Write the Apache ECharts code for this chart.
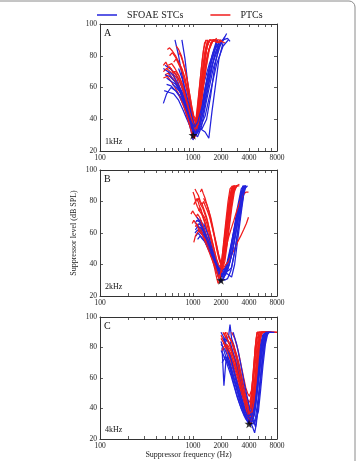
<!DOCTYPE html>
<html>
<head>
<meta charset="utf-8">
<script src="https://cdn.jsdelivr.net/npm/echarts@6/dist/echarts.min.js"></script>
<style>
  html, body { margin: 0; padding: 0; background: #fff; }
  #chart { width: 357px; height: 461px; }
</style>
</head>
<body>
<div id="chart"></div>
<script>
// suppression tuning curves, [frequency Hz, level dB SPL]
const stcA = [
  [[480,50],[520,56],[580,60],[650,58],[720,54],[800,48],[880,40],[950,33],[1000,27],[1050,30],[1150,45],[1300,62],[1500,75],[1700,84],[1900,88]],
  [[480,72],[540,70],[600,66],[680,62],[760,57],[850,50],[920,42],[980,35],[1050,32],[1150,38],[1300,55],[1500,72],[1750,85],[2000,90]],
  [[640,90],[700,80],[760,68],[830,56],[900,45],[960,36],[1020,30],[1100,33],[1200,42],[1350,60],[1600,80],[1800,90]],
  [[760,90],[820,78],[880,62],[940,48],[1000,38],[1080,33],[1180,38],[1300,50],[1500,68],[1750,82],[2050,90]],
  [[500,68],[560,67],[630,64],[700,60],[780,55],[860,47],[930,40],[1000,34],[1080,31],[1200,34],[1350,32],[1480,28],[1600,45],[1750,62],[1900,78],[2100,88]],
  [[490,58],[550,57],[620,56],[700,52],[780,46],[860,40],[940,35],[1020,33],[1100,35],[1250,34],[1400,40],[1550,55],[1700,72],[1900,86],[2200,92]],
  [[500,74],[560,72],[620,70],[690,66],[760,60],[840,52],[910,44],[980,37],[1060,33],[1150,36],[1280,48],[1450,68],[1650,82],[1850,90]],
  [[520,66],[580,64],[650,62],[720,58],[800,52],[880,45],[960,38],[1040,34],[1120,31],[1220,38],[1380,55],[1600,74],[1850,84],[2100,90],[2350,91],[2500,89]],
  [[600,62],[660,60],[730,57],[810,50],[890,43],[960,36],[1030,31],[1120,29],[1230,35],[1400,52],[1650,72],[1950,86],[2300,94]],
  [[550,70],[610,68],[680,63],[750,58],[830,50],[910,42],[990,35],[1070,30],[1160,35],[1300,45],[1500,64],[1700,80],[1900,88]],
  [[700,72],[760,66],[830,58],[900,50],[970,42],[1040,36],[1120,32],[1220,36],[1350,42],[1550,58],[1800,75],[2100,86],[2400,90]],
  [[520,62],[580,61],[650,58],[720,55],[800,50],[880,44],[960,38],[1040,35],[1120,38],[1250,48],[1400,62],[1600,78],[1800,88]]
];
const ptcA = [
  [[480,74],[510,76],[540,73],[580,72],[620,68],[670,66],[720,60],[780,55],[840,48],[900,42],[950,36],[1000,32],[1050,35],[1100,45],[1180,62],[1260,78],[1330,88],[1400,90]],
  [[530,84],[560,85],[600,83],[650,80],[700,76],[750,72],[800,65],[860,58],[920,50],[970,42],[1020,35],[1080,38],[1140,52],[1220,70],[1300,84],[1380,90]],
  [[480,70],[520,72],[570,70],[620,67],[680,62],[740,56],[800,50],[860,44],[920,38],[980,33],[1040,30],[1100,34],[1180,48],[1260,64],[1350,80],[1450,88],[1550,90]],
  [[560,80],[600,82],[650,79],[700,76],[760,72],[820,66],[880,58],[940,50],[1000,42],[1060,38],[1120,44],[1200,60],[1280,74],[1360,84],[1450,90]],
  [[500,68],[540,69],[590,66],[640,64],[700,60],[760,54],[820,48],[880,42],[940,37],[1000,34],[1060,36],[1130,45],[1220,60],[1320,76],[1420,86],[1520,90]],
  [[620,76],[660,78],[710,74],[760,70],[820,64],[880,56],[940,48],[1000,40],[1060,35],[1120,40],[1200,55],[1300,72],[1400,85],[1500,90],[1650,89],[1800,91]],
  [[480,66],[530,67],[580,64],[640,60],[700,56],[770,50],[840,44],[900,38],[960,32],[1020,28],[1080,30],[1150,40],[1250,58],[1380,76],[1550,88],[1700,90]],
  [[700,82],[740,80],[780,76],[830,70],[880,62],[930,54],[980,46],[1030,40],[1090,37],[1150,42],[1230,58],[1320,74],[1420,86],[1520,90],[1700,90],[1900,88],[2100,90]],
  [[540,74],[590,75],[640,72],[700,68],[760,62],[820,56],[880,50],[940,44],[1000,38],[1060,34],[1120,38],[1200,50],[1300,66],[1420,80],[1560,88],[1700,90]],
  [[600,70],[650,70],[710,67],[770,62],[830,56],[890,49],[950,42],[1010,36],[1070,33],[1140,37],[1230,50],[1340,68],[1480,84],[1650,90],[1900,90],[2200,88]],
  [[660,86],[700,84],[750,80],[800,74],[860,66],[920,56],[970,48],[1020,42],[1080,40],[1150,48],[1240,66],[1340,82],[1440,90]],
  [[520,72],[560,73],[610,70],[660,68],[720,64],[780,58],[840,52],[900,46],[960,40],[1020,36],[1090,34],[1160,40],[1260,56],[1380,72],[1500,84],[1650,90],[1800,88],[2000,90]]
];
const stcB = [
  [[1050,66],[1100,68],[1180,67],[1250,64],[1350,60],[1450,55],[1550,50],[1680,44],[1800,38],[1950,34],[2100,33],[2300,38],[2500,48],[2750,62],[3000,76],[3300,88],[3500,90]],
  [[1060,62],[1120,64],[1200,62],[1290,59],[1380,55],[1480,50],[1600,45],[1720,40],[1850,35],[2000,32],[2200,36],[2450,45],[2700,58],[3000,72],[3250,84],[3450,90]],
  [[1100,70],[1160,68],[1230,66],[1320,62],[1420,56],[1540,50],[1660,44],[1780,38],[1900,32],[2050,30],[2250,34],[2500,42],[2800,56],[3100,70],[3400,82],[3650,90]],
  [[1050,60],[1120,62],[1200,60],[1300,58],[1400,54],[1500,50],[1620,46],[1750,42],[1900,38],[2100,35],[2350,34],[2600,32],[2800,40],[3000,54],[3250,70],[3500,84],[3700,90]],
  [[1080,66],[1150,64],[1230,63],[1320,60],[1420,57],[1520,52],[1640,46],[1780,40],[1920,36],[2080,34],[2300,40],[2550,52],[2850,66],[3150,80],[3450,88],[3700,90]],
  [[1200,64],[1270,62],[1350,58],[1440,54],[1540,48],[1650,42],[1780,36],[1900,31],[2000,29],[2150,32],[2350,40],[2600,52],[2900,68],[3200,82],[3500,90]],
  [[1070,58],[1130,60],[1210,58],[1300,56],[1400,52],[1510,48],[1630,43],[1760,39],[1900,36],[2050,36],[2250,38],[2500,46],[2750,58],[3050,72],[3350,84],[3600,90]],
  [[1150,68],[1220,68],[1300,64],[1400,58],[1500,52],[1610,46],[1730,40],[1860,35],[2000,33],[2200,35],[2420,42],[2680,56],[2950,70],[3250,84],[3550,90]],
  [[1250,60],[1330,58],[1420,54],[1520,50],[1620,46],[1740,42],[1880,38],[2030,36],[2200,37],[2400,36],[2600,38],[2850,50],[3100,66],[3350,80],[3600,90]],
  [[1090,64],[1160,66],[1250,64],[1340,60],[1440,56],[1560,50],[1690,44],[1830,38],[1980,34],[2150,32],[2350,36],[2600,46],[2880,60],[3150,74],[3400,86],[3600,90]],
  [[1300,66],[1380,62],[1470,58],[1570,52],[1680,46],[1800,40],[1930,36],[2080,33],[2250,34],[2450,40],[2700,50],[2950,64],[3200,78],[3450,88],[3700,90]],
  [[1120,56],[1190,58],[1270,56],[1360,54],[1460,50],[1580,46],[1700,42],[1840,38],[2000,34],[2180,30],[2350,31],[2550,36],[2800,48],[3050,62],[3350,78],[3600,88],[3850,90]]
];
const ptcB = [
  [[1000,86],[1030,84],[1070,80],[1110,82],[1160,78],[1220,74],[1290,70],[1360,66],[1440,60],[1520,54],[1610,48],[1700,42],[1800,36],[1880,32],[1960,35],[2050,44],[2150,56],[2260,68],[2380,80],[2500,88],[2650,90]],
  [[950,72],[990,74],[1040,72],[1100,70],[1170,68],[1250,64],[1340,60],[1430,55],[1530,50],[1630,45],[1730,40],[1830,35],[1920,30],[2000,33],[2100,42],[2220,54],[2350,68],[2500,80],[2650,88],[2800,90]],
  [[1050,88],[1090,86],[1140,84],[1200,80],[1260,78],[1330,74],[1400,70],[1480,64],[1560,58],[1650,52],[1740,46],[1830,40],[1920,37],[2010,40],[2110,50],[2230,62],[2360,74],[2500,84],[2680,90]],
  [[980,66],[1020,68],[1080,66],[1150,64],[1230,62],[1310,58],[1400,54],[1500,49],[1600,44],[1700,38],[1790,32],[1860,28],[1940,30],[2030,38],[2140,50],[2270,64],[2420,78],[2580,88],[2750,90]],
  [[1100,80],[1150,82],[1210,78],[1270,76],[1340,72],[1420,68],[1500,62],[1590,56],[1680,50],[1780,44],[1880,40],[1980,38],[2080,42],[2200,52],[2330,64],[2470,76],[2620,86],[2780,90],[3000,90]],
  [[1150,74],[1200,76],[1260,72],[1330,70],[1410,66],[1490,60],[1580,54],[1670,48],[1770,42],[1870,36],[1960,33],[2060,36],[2170,46],[2300,58],[2440,70],[2600,82],[2780,90]],
  [[1020,78],[1060,80],[1110,77],[1170,74],[1240,72],[1310,68],[1390,63],[1470,58],[1560,52],[1650,46],[1750,40],[1850,36],[1950,34],[2050,38],[2170,48],[2300,60],[2450,72],[2620,82],[2800,88],[3000,90]],
  [[1300,82],[1350,80],[1410,78],[1480,74],[1550,70],[1630,64],[1710,58],[1800,52],[1890,46],[1980,42],[2080,40],[2190,44],[2310,54],[2450,66],[2600,78],[2760,88],[2950,90],[3150,90]],
  [[1080,70],[1120,72],[1180,70],[1250,66],[1320,62],[1400,58],[1490,54],[1580,50],[1680,46],[1780,42],[1880,38],[1980,36],[2100,37],[2250,40],[2420,42],[2600,46],[2800,50],[3000,54],[3250,58],[3500,62],[3750,66],[3950,70]],
  [[1250,78],[1300,80],[1360,77],[1430,74],[1510,70],[1600,64],[1690,58],[1790,50],[1890,44],[1990,40],[2100,42],[2230,48],[2380,56],[2550,62],[2750,68],[2950,74],[3200,80],[3450,84],[3700,86],[3950,86]],
  [[1060,64],[1100,66],[1150,62],[1210,60],[1280,58],[1350,56],[1430,52],[1520,48],[1610,44],[1710,40],[1810,35],[1900,31],[1990,33],[2090,40],[2200,50],[2330,62],[2470,74],[2630,84],[2800,90]],
  [[1200,86],[1240,88],[1290,85],[1350,82],[1410,78],[1480,74],[1560,68],[1640,62],[1730,56],[1820,50],[1910,44],[2000,40],[2100,38],[2200,42],[2320,52],[2460,64],[2610,76],[2780,86],[2950,90],[3150,91]],
  [[1020,54],[1060,58],[1110,60],[1170,62],[1240,60],[1320,56],[1400,52],[1490,48],[1580,44],[1680,40],[1780,36],[1880,32],[1970,34],[2070,42],[2180,54],[2310,66],[2450,78],[2600,86],[2760,90]]
];
const stcC = [
  [[2000,84],[2100,80],[2200,76],[2320,72],[2450,68],[2600,62],[2760,56],[2930,50],[3100,45],[3300,40],[3500,36],[3700,33],[3900,31],[4100,30],[4350,32],[4600,40],[4900,55],[5200,70],[5550,84],[5900,90]],
  [[2050,80],[2150,55],[2250,70],[2370,74],[2500,70],[2650,64],[2800,58],[2970,52],[3150,46],[3350,41],[3550,37],[3760,33],[3980,30],[4200,29],[4450,34],[4750,48],[5050,64],[5400,78],[5800,88],[6200,90]],
  [[2000,90],[2080,88],[2170,86],[2270,82],[2380,78],[2500,74],[2640,68],[2790,62],[2950,56],[3130,50],[3320,44],[3520,38],[3730,34],[3950,31],[4180,33],[4430,40],[4700,52],[5000,66],[5350,80],[5700,88],[6100,90]],
  [[2200,86],[2300,84],[2420,88],[2500,95],[2600,86],[2730,82],[2870,76],[3020,70],[3180,64],[3350,58],[3540,52],[3730,46],[3930,40],[4130,35],[4350,32],[4580,36],[4850,48],[5150,62],[5500,76],[5900,86],[6300,90]],
  [[2000,78],[2090,76],[2190,73],[2300,70],[2420,66],[2550,62],[2690,57],[2840,52],[3000,47],[3170,43],[3350,39],[3550,36],[3760,34],[3980,33],[4200,34],[4450,32],[4700,28],[4900,36],[5150,50],[5450,66],[5800,80],[6200,88],[6600,90]],
  [[2100,86],[2190,84],[2290,80],[2400,77],[2520,73],[2650,68],[2800,63],[2960,58],[3130,53],[3310,48],[3500,43],[3700,38],[3910,34],[4130,31],[4360,28],[4600,24],[4800,30],[5050,44],[5350,60],[5700,76],[6100,88],[6500,90]],
  [[2300,80],[2400,78],[2510,75],[2630,70],[2760,65],[2900,60],[3050,55],[3210,50],[3380,45],[3560,40],[3750,36],[3950,33],[4160,32],[4390,34],[4640,40],[4920,52],[5230,66],[5580,80],[5950,88],[6350,90]],
  [[2000,82],[2090,81],[2190,79],[2300,76],[2420,72],[2550,67],[2690,62],[2840,57],[3000,52],[3170,48],[3350,44],[3540,40],[3740,37],[3950,35],[4170,36],[4400,42],[4650,54],[4930,68],[5250,80],[5600,88],[6000,90]],
  [[2500,84],[2600,80],[2720,76],[2850,72],[2990,66],[3140,60],[3300,54],[3470,48],[3650,42],[3840,37],[4040,33],[4250,30],[4470,30],[4700,34],[4950,44],[5250,58],[5600,74],[6000,86],[6400,90],[6900,90]],
  [[2150,74],[2250,72],[2360,70],[2480,67],[2610,63],[2750,59],[2900,55],[3060,51],[3230,47],[3410,43],[3600,39],[3800,36],[4010,34],[4230,34],[4460,38],[4710,48],[4990,62],[5300,76],[5650,86],[6050,90],[7000,90]],
  [[2700,90],[2820,86],[2950,82],[3090,76],[3240,70],[3400,63],[3570,56],[3750,50],[3940,44],[4140,38],[4350,33],[4570,30],[4800,31],[5050,38],[5330,52],[5650,68],[6000,82],[6400,90],[7000,90]],
  [[2050,70],[2140,72],[2240,74],[2350,72],[2470,69],[2600,65],[2740,60],[2890,55],[3050,50],[3220,45],[3400,41],[3590,37],[3790,34],[4000,32],[4220,31],[4450,34],[4700,42],[4980,56],[5300,72],[5650,85],[6050,90],[7500,90]]
];
const ptcC = [
  [[2100,90],[2180,88],[2270,86],[2370,84],[2480,82],[2600,78],[2730,74],[2870,70],[3020,64],[3180,58],[3350,52],[3530,46],[3720,40],[3900,34],[4050,32],[4200,38],[4350,50],[4500,64],[4660,78],[4830,88],[5000,90],[8000,90]],
  [[2200,86],[2280,88],[2370,84],[2470,82],[2580,80],[2700,76],[2830,72],[2970,68],[3120,62],[3280,56],[3450,50],[3620,45],[3800,40],[3980,38],[4150,42],[4320,54],[4500,68],[4700,82],[4900,90],[6000,90]],
  [[2000,88],[2080,86],[2170,84],[2270,80],[2370,78],[2480,74],[2600,72],[2730,68],[2870,64],[3020,60],[3180,55],[3350,50],[3530,45],[3720,40],[3920,36],[4100,40],[4280,52],[4470,66],[4670,80],[4880,90],[7000,90]],
  [[2300,90],[2390,88],[2490,86],[2600,84],[2720,82],[2850,78],[2990,74],[3140,68],[3300,62],[3470,56],[3650,50],[3840,46],[4040,44],[4250,48],[4460,58],[4680,70],[4910,82],[5150,90],[7500,90]],
  [[2100,82],[2180,84],[2270,82],[2370,80],[2480,77],[2600,74],[2730,70],[2870,66],[3020,62],[3180,57],[3350,52],[3530,47],[3720,42],[3910,38],[4100,36],[4300,40],[4510,50],[4730,62],[4960,76],[5200,86],[5450,90],[8000,90]],
  [[2400,88],[2490,86],[2590,84],[2700,80],[2820,76],[2950,72],[3090,66],[3240,60],[3400,54],[3570,48],[3750,42],[3940,38],[4140,36],[4350,40],[4570,50],[4800,64],[5050,78],[5300,88],[5550,90],[6500,90]],
  [[2000,86],[2090,84],[2190,82],[2290,78],[2400,75],[2520,72],[2650,68],[2780,64],[2920,60],[3070,56],[3230,52],[3400,48],[3580,44],[3770,40],[3960,36],[4160,34],[4370,38],[4590,48],[4820,60],[5060,74],[5320,86],[5600,90],[7200,90]],
  [[2600,90],[2700,88],[2810,86],[2930,82],[3060,78],[3200,72],[3350,66],[3510,60],[3680,54],[3860,50],[4050,48],[4250,52],[4460,62],[4680,74],[4910,86],[5150,90],[8000,90]],
  [[2250,80],[2340,82],[2440,80],[2550,78],[2670,75],[2800,72],[2940,68],[3090,63],[3250,58],[3420,53],[3600,48],[3790,43],[3990,40],[4200,42],[4420,50],[4650,62],[4890,76],[5140,86],[5400,90],[6800,90]],
  [[2150,88],[2230,90],[2320,86],[2420,84],[2530,80],[2650,76],[2780,72],[2920,67],[3070,62],[3230,56],[3400,50],[3580,44],[3770,38],[3970,33],[4160,30],[4350,34],[4550,46],[4760,60],[4980,76],[5210,88],[5450,90],[6200,90]],
  [[2500,86],[2600,84],[2710,82],[2830,78],[2960,74],[3100,70],[3250,64],[3410,58],[3580,52],[3760,46],[3950,42],[4150,40],[4360,44],[4580,54],[4810,68],[5050,82],[5300,90],[7800,90]],
  [[2050,78],[2130,80],[2220,82],[2320,80],[2430,78],[2550,76],[2680,72],[2820,68],[2970,64],[3130,59],[3300,54],[3480,49],[3670,44],[3870,40],[4080,37],[4290,38],[4510,44],[4740,56],[4980,70],[5230,84],[5500,90],[6400,90]]
];
const probeFreqs = [1000, 2000, 4000];
const probeLevel = 30;
const panelLetters = ['A', 'B', 'C'];
const panelProbes = ['1kHz', '2kHz', '4kHz'];
const xLabelTicks = [100, 1000, 2000, 4000, 8000];
const xAllTicks = [100, 200, 300, 400, 500, 600, 700, 800, 900, 1000, 2000, 3000, 4000, 5000, 6000, 7000, 8000];

const BLUE = '#2323dc';
const RED = '#f01c1c';
const FONT = 'Liberation Serif';

const panels = [
  { stc: stcA, ptc: ptcA, top: 24, height: 127 },
  { stc: stcB, ptc: ptcB, top: 170, height: 126 },
  { stc: stcC, ptc: ptcC, top: 317, height: 122 }
];

const axisLine = { show: true, lineStyle: { color: '#333', width: 1 } };
const tickStyle = { inside: true, length: 3, lineStyle: { color: '#333', width: 0.8 } };

const grid = [];
const xAxis = [];
const yAxis = [];
const series = [];
const graphic = [];

panels.forEach((p, i) => {
  grid.push({ left: 100, width: 177, top: p.top, height: p.height });
  // bottom x axis with labels
  xAxis.push({
    type: 'log', logBase: 10, gridIndex: i, min: 100, max: 8000,
    axisLine, splitLine: { show: false },
    axisTick: { ...tickStyle, customValues: xAllTicks },
    axisLabel: {
      customValues: xLabelTicks, formatter: (v) => String(Math.round(v)),
      fontFamily: FONT, fontSize: 7.5, color: '#222', margin: 3
    },
    name: i === 2 ? 'Suppressor frequency (Hz)' : '',
    nameLocation: 'middle', nameGap: 11,
    nameTextStyle: { fontFamily: FONT, fontSize: 8, color: '#222' }
  });
  // mirrored top axis (box)
  xAxis.push({
    type: 'log', logBase: 10, gridIndex: i, min: 100, max: 8000, position: 'top',
    axisLine, splitLine: { show: false },
    axisTick: { ...tickStyle, customValues: xAllTicks },
    axisLabel: { show: false }
  });
  yAxis.push({
    type: 'value', gridIndex: i, min: 20, max: 100, interval: 20,
    axisLine, splitLine: { show: false }, axisTick: tickStyle,
    axisLabel: { fontFamily: FONT, fontSize: 7.5, color: '#222', margin: 3 },
    name: i === 1 ? 'Suppressor level (dB SPL)' : '',
    nameLocation: 'middle', nameGap: 22, nameRotate: 90,
    nameTextStyle: { fontFamily: FONT, fontSize: 8, color: '#222' }
  });
  yAxis.push({
    type: 'value', gridIndex: i, min: 20, max: 100, interval: 20, position: 'right',
    axisLine, splitLine: { show: false }, axisTick: tickStyle,
    axisLabel: { show: false }
  });

  const n = Math.max(p.stc.length, p.ptc.length);
  const mk = (name, color, data) => ({
    type: 'line', name, xAxisIndex: i * 2, yAxisIndex: i * 2,
    data, showSymbol: false, symbol: 'none', silent: true,
    lineStyle: { color, width: 1.25 }, itemStyle: { color }
  });
  for (let k = 0; k < n; k++) {
    if (p.ptc[k]) series.push(mk('PTCs', RED, p.ptc[k]));
    if (p.stc[k]) series.push(mk('SFOAE STCs', BLUE, p.stc[k]));
  }
  series.push({
    type: 'scatter', xAxisIndex: i * 2, yAxisIndex: i * 2, silent: true,
    symbol: 'path://M50,0 L61,35 L98,35 L68,57 L79,91 L50,70 L21,91 L32,57 L2,35 L39,35 Z',
    symbolSize: 9, itemStyle: { color: '#000' }, z: 5,
    data: [[probeFreqs[i], probeLevel]]
  });

  graphic.push({
    type: 'text', left: 104, top: p.top + 4,
    style: { text: panelLetters[i], font: '10px "Liberation Serif"', fill: '#111' }
  });
  graphic.push({
    type: 'text', left: 105, top: p.top + p.height - 13,
    style: { text: panelProbes[i], font: '8px "Liberation Serif"', fill: '#111' }
  });
});

// figure frame: top and right edges with rounded corner
graphic.push({
  type: 'rect', shape: { x: -10, y: 1, width: 365, height: 480, r: [0, 6, 0, 0] },
  style: { fill: 'none', stroke: '#8a8a8a', lineWidth: 1 }, silent: true
});

const chart = echarts.init(document.getElementById('chart'), null, { renderer: 'canvas' });
chart.setOption({
  animation: false,
  backgroundColor: '#fff',
  legend: {
    data: [
      { name: 'SFOAE STCs', icon: 'rect', itemStyle: { color: BLUE } },
      { name: 'PTCs', icon: 'rect', itemStyle: { color: RED } }
    ],
    left: 92, top: 5, itemWidth: 20, itemHeight: 1.5, itemGap: 27,
    textStyle: { fontFamily: FONT, fontSize: 10, color: '#222', padding: [0, 0, 0, 5] }
  },
  grid, xAxis, yAxis, series, graphic
});
</script>
</body>
</html>
